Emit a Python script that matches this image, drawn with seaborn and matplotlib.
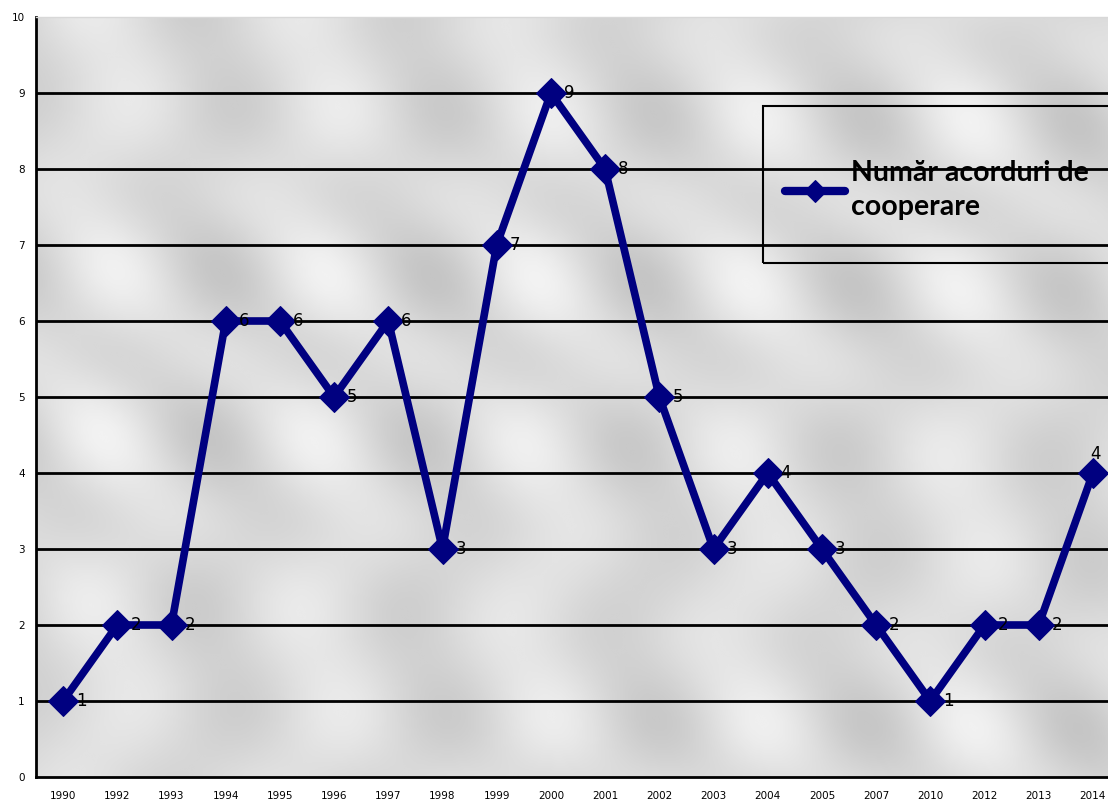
import numpy as np
import pandas as pd
import matplotlib.pyplot as plt
import matplotlib.patches as mpatches
import seaborn as sns

# ---- data ----
years = ['1990', '1992', '1993', '1994', '1995', '1996', '1997', '1998', '1999', '2000',
         '2001', '2002', '2003', '2004', '2005', '2007', '2010', '2012', '2013', '2014']
acorduri = [1, 2, 2, 6, 6, 5, 6, 3, 7, 9, 8, 5, 3, 4, 3, 2, 1, 2, 2, 4]
series_name = 'Număr acorduri de\ncooperare'

df = pd.DataFrame({'pos': np.arange(len(years)), 'val': acorduri})

sns.set_style('white')
plt.rcParams['text.color'] = 'black'
plt.rcParams['xtick.color'] = 'black'
plt.rcParams['ytick.color'] = 'black'
fig = plt.figure(figsize=(11.08, 8.05), dpi=100)
# axes run past the right edge of the figure, like the source chart
ax = fig.add_axes([36 / 1108, 28 / 805, 1084 / 1108, 760 / 805])

# ---- gray textured background (decorative) ----
gx = np.linspace(0, 1084, 400)
gy = np.linspace(0, 760, 300)
GX, GY = np.meshgrid(gx, gy)
tex = 0.86 + 0.06 * np.cos(2 * np.pi * (GX - 70) / 215) * (0.6 + 0.4 * np.cos(2 * np.pi * (GY - 40) / 152)) \
      + 0.03 * np.cos(2 * np.pi * (GX + GY) / 200)
ax.imshow(tex, cmap='gray', vmin=0, vmax=1, extent=[-0.5, len(years) - 0.5, 0, 10],
          aspect='auto', origin='lower', zorder=0, interpolation='bicubic')

# ---- grid ----
for yv in range(1, 10):
    ax.axhline(yv, color='black', lw=2, zorder=1)

# ---- line ----
sns.lineplot(data=df, x='pos', y='val', ax=ax, color='#000080', lw=5.5,
             marker='D', markersize=15, markeredgecolor='#000080',
             label=series_name, zorder=3)

for i, v in enumerate(acorduri):
    if i == len(acorduri) - 1:
        ax.text(i + 0.05, v + 0.13, str(v), fontsize=12, ha='center', va='bottom', zorder=4)
    else:
        ax.text(i + 0.24, v, str(v), fontsize=12, ha='left', va='center', zorder=4)

ax.set_xlim(-0.5, len(years) - 0.5)
ax.set_ylim(0, 10)
ax.set_yticks(range(0, 11))
ax.set_yticklabels([str(t) for t in range(0, 11)], fontsize=7.5)
ax.set_xticks(range(len(years)))
ax.set_xticklabels(years, fontsize=7.5)
ax.set_xticks(np.arange(-0.5, len(years), 1), minor=True)
ax.tick_params(axis='x', which='major', length=0, pad=10)
ax.tick_params(axis='x', which='minor', length=5, width=2, direction='out', color='black')
ax.tick_params(axis='y', length=5, width=2, direction='out', color='black', pad=3)
ax.set_xlabel('')
ax.set_ylabel('')

for s in ['left', 'bottom']:
    ax.spines[s].set_color('black')
    ax.spines[s].set_linewidth(2)
ax.spines['top'].set_color('#d8d8d8')
ax.spines['top'].set_linewidth(1)
ax.spines['right'].set_visible(False)

# ---- legend: box drawn separately, entry placed inside ----
box = mpatches.Rectangle((0.671, 0.676), 0.4, 0.207, transform=ax.transAxes,
                         facecolor='none', edgecolor='black', lw=1.5, zorder=5, clip_on=False)
ax.add_patch(box)
leg = ax.legend(loc='center left', bbox_to_anchor=(0.671 + 22 / 1084, 0.772), frameon=False,
                prop={'family': 'Lato', 'weight': 'bold', 'size': 20.5},
                handlelength=2.1, borderpad=0, handletextpad=0.2, borderaxespad=0,
                labelspacing=0)
for h in leg.legend_handles:
    h.set_markersize(11)
    h.set_linewidth(6)
for t in leg.get_texts():
    t.set_color('black')
    t.set_linespacing(1.4)

fig.savefig('out.png', dpi=100)
